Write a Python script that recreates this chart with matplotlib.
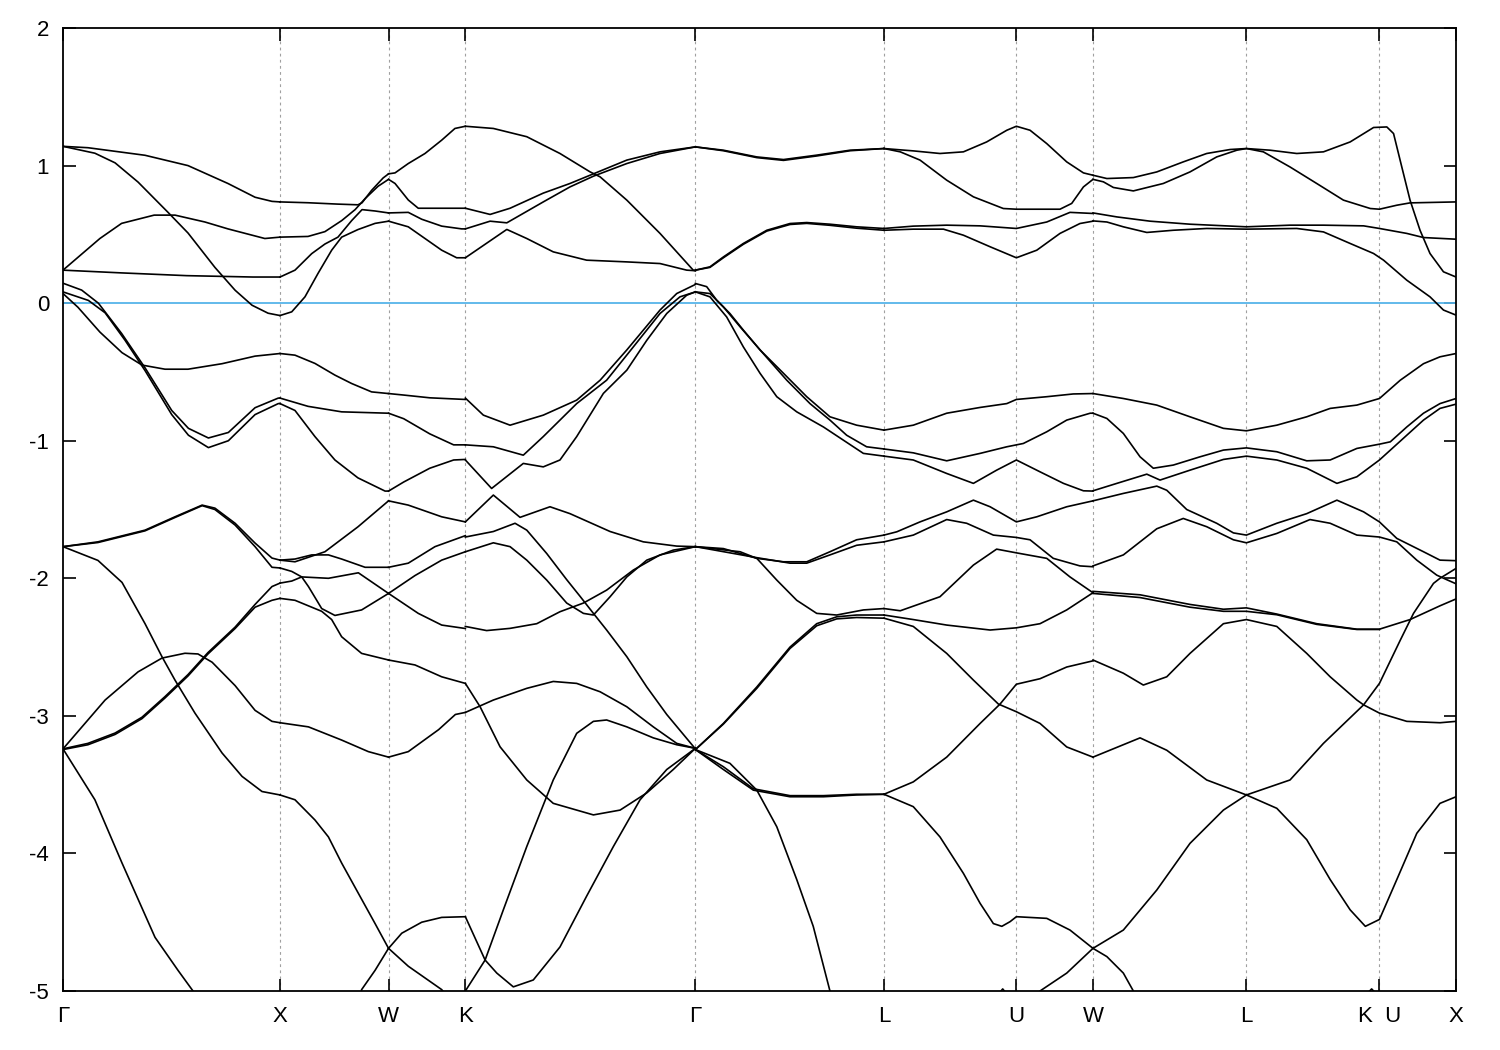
import matplotlib
matplotlib.use("Agg")
import matplotlib.pyplot as plt

plt.rcParams['font.family'] = ['Liberation Sans', 'DejaVu Sans']
plt.rcParams['axes.unicode_minus'] = False

# high-symmetry points along the path (path length units)
kpath_pos = [0.0, 1.0, 1.5, 1.854, 2.914, 3.783, 4.393, 4.746, 5.453, 6.066, 6.419]
kpath_lab = ['Γ', 'X', 'W', 'K', 'Γ', 'L', 'U', 'W', 'L', 'K  U', 'X']

# bands, traced segment by segment, each curve a list of (k, E)
gamma_x = [
    [(0, 1.14), (0.115, 1.13), (0.378, 1.075), (0.576, 1.0), (0.76, 0.87), (0.885, 0.77), (0.963, 0.74), (1.0, 0.736)],
    [(0, 1.14), (0.147, 1.09), (0.24, 1.02), (0.346, 0.88), (0.484, 0.66), (0.576, 0.51), (0.70, 0.26), (0.793, 0.094),
     (0.871, -0.015), (0.945, -0.073), (1.0, -0.09)],
    [(0, 0.24), (0.17, 0.47), (0.27, 0.58), (0.42, 0.64), (0.516, 0.64), (0.654, 0.59), (0.76, 0.54), (0.93, 0.47), (1.0, 0.48)],
    [(0, 0.24), (0.27, 0.22), (0.57, 0.20), (0.875, 0.19), (1.0, 0.19)],
    [(0, 0.145), (0.086, 0.095), (0.163, 0.0), (0.27, -0.22), (0.378, -0.47), (0.501, -0.78), (0.578, -0.91), (0.67, -0.98),
     (0.762, -0.94), (0.885, -0.76), (0.992, -0.69), (1.0, -0.69)],
    [(0, 0.082), (0.117, 0.02), (0.194, -0.07), (0.286, -0.27), (0.378, -0.49), (0.501, -0.81), (0.578, -0.96), (0.67, -1.05),
     (0.762, -1.0), (0.885, -0.81), (0.992, -0.73), (1.0, -0.73)],
    [(0, 0.07), (0.069, -0.03), (0.17, -0.21), (0.272, -0.36), (0.364, -0.45), (0.47, -0.48), (0.576, -0.48), (0.733, -0.44),
     (0.885, -0.385), (1.0, -0.366)],
    [(0, -1.77), (0.161, -1.735), (0.378, -1.65), (0.516, -1.553), (0.641, -1.468), (0.70, -1.49), (0.793, -1.60),
     (0.885, -1.744), (0.963, -1.853), (1.0, -1.868)],
    [(0, -1.77), (0.161, -1.74), (0.378, -1.655), (0.516, -1.558), (0.641, -1.472), (0.70, -1.50), (0.793, -1.613),
     (0.885, -1.77), (0.963, -1.92), (1.0, -1.925)],
    [(0, -1.77), (0.161, -1.87), (0.272, -2.03), (0.378, -2.33), (0.456, -2.57), (0.516, -2.74), (0.608, -2.98), (0.733, -3.27),
     (0.825, -3.44), (0.917, -3.55), (1.0, -3.575)],
    [(0, -3.24), (0.115, -3.20), (0.24, -3.125), (0.364, -3.01), (0.47, -2.86), (0.576, -2.70), (0.668, -2.54), (0.793, -2.355),
     (0.885, -2.19), (0.963, -2.06), (1.0, -2.035)],
    [(0, -3.245), (0.115, -3.21), (0.24, -3.135), (0.364, -3.02), (0.47, -2.87), (0.576, -2.71), (0.668, -2.55), (0.793, -2.365),
     (0.885, -2.21), (0.963, -2.16), (1.0, -2.146)],
    [(0, -3.24), (0.194, -2.885), (0.346, -2.68), (0.456, -2.58), (0.562, -2.545), (0.622, -2.55), (0.687, -2.61), (0.793, -2.78),
     (0.885, -2.96), (0.963, -3.04), (1.0, -3.05)],
    [(0, -3.24), (0.147, -3.61), (0.272, -4.07), (0.424, -4.61), (0.53, -4.85), (0.599, -5.0), (0.631, -5.1)],
]

x_w = [
    [(1.0, 0.736), (1.129, 0.73), (1.267, 0.72), (1.359, 0.715), (1.378, 0.73), (1.422, 0.82), (1.475, 0.91), (1.5, 0.94)],
    [(1.0, 0.48), (1.129, 0.485), (1.207, 0.52), (1.284, 0.60), (1.346, 0.68), (1.392, 0.76), (1.452, 0.85), (1.5, 0.90)],
    [(1.0, 0.19), (1.069, 0.24), (1.146, 0.36), (1.207, 0.43), (1.267, 0.48), (1.330, 0.60), (1.378, 0.68), (1.438, 0.67), (1.5, 0.656)],
    [(1.0, -0.09), (1.054, -0.063), (1.115, 0.046), (1.175, 0.216), (1.238, 0.385), (1.284, 0.48), (1.359, 0.535), (1.438, 0.58),
     (1.5, 0.596)],
    [(1.0, -0.366), (1.069, -0.378), (1.161, -0.438), (1.253, -0.523), (1.330, -0.584), (1.422, -0.645), (1.5, -0.657)],
    [(1.0, -0.69), (1.129, -0.75), (1.284, -0.79), (1.5, -0.80)],
    [(1.0, -0.73), (1.069, -0.78), (1.161, -0.97), (1.253, -1.14), (1.359, -1.27), (1.484, -1.366), (1.5, -1.366)],
    [(1.0, -1.868), (1.069, -1.88), (1.207, -1.807), (1.359, -1.626), (1.5, -1.437)],
    [(1.0, -1.868), (1.069, -1.86), (1.146, -1.83), (1.223, -1.83), (1.284, -1.86), (1.392, -1.92), (1.5, -1.92)],
    [(1.0, -1.925), (1.054, -1.95), (1.10, -1.99), (1.131, -2.06), (1.192, -2.22), (1.253, -2.27), (1.376, -2.23), (1.5, -2.11)],
    [(1.0, -2.035), (1.054, -2.02), (1.10, -1.99), (1.223, -2.0), (1.361, -1.96), (1.5, -2.11)],
    [(1.0, -2.146), (1.069, -2.16), (1.192, -2.24), (1.238, -2.30), (1.284, -2.425), (1.376, -2.546), (1.5, -2.594)],
    [(1.0, -3.05), (1.131, -3.08), (1.284, -3.176), (1.407, -3.26), (1.5, -3.30)],
    [(1.0, -3.575), (1.069, -3.61), (1.161, -3.757), (1.223, -3.88), (1.284, -4.07), (1.361, -4.29), (1.438, -4.51), (1.5, -4.69)],
    [(1.36, -5.1), (1.376, -4.99), (1.438, -4.85), (1.5, -4.69)],
]

w_k = [
    [(1.5, 0.94), (1.53, 0.947), (1.591, 1.015), (1.668, 1.088), (1.745, 1.185), (1.806, 1.27), (1.854, 1.286)],
    [(1.5, 0.90), (1.53, 0.87), (1.591, 0.75), (1.637, 0.69), (1.854, 0.69)],
    [(1.5, 0.656), (1.591, 0.66), (1.653, 0.61), (1.745, 0.56), (1.837, 0.54), (1.854, 0.54)],
    [(1.5, 0.596), (1.591, 0.555), (1.668, 0.47), (1.745, 0.385), (1.814, 0.33), (1.854, 0.33)],
    [(1.5, -0.657), (1.57, -0.668), (1.69, -0.688), (1.854, -0.70)],
    [(1.5, -0.80), (1.57, -0.84), (1.69, -0.95), (1.80, -1.03), (1.854, -1.03)],
    [(1.5, -1.366), (1.57, -1.30), (1.69, -1.20), (1.80, -1.14), (1.854, -1.136)],
    [(1.5, -1.437), (1.591, -1.468), (1.745, -1.553), (1.854, -1.59)],
    [(1.5, -1.92), (1.591, -1.89), (1.714, -1.77), (1.854, -1.69)],
    [(1.5, -2.11), (1.622, -1.98), (1.745, -1.868), (1.854, -1.807)],
    [(1.5, -2.11), (1.637, -2.255), (1.745, -2.34), (1.854, -2.365)],
    [(1.5, -2.594), (1.622, -2.63), (1.745, -2.716), (1.854, -2.764)],
    [(1.5, -3.30), (1.591, -3.26), (1.731, -3.10), (1.808, -2.99), (1.854, -2.975)],
    [(1.5, -4.69), (1.591, -4.82), (1.745, -4.99), (1.80, -5.1)],
    [(1.5, -4.69), (1.561, -4.58), (1.653, -4.50), (1.745, -4.465), (1.854, -4.46)],
]

k_gamma = [
    [(1.854, 1.286), (1.983, 1.27), (2.137, 1.21), (2.290, 1.088), (2.428, 0.955), (2.475, 0.918), (2.598, 0.749),
     (2.751, 0.507), (2.904, 0.24), (2.914, 0.236)],
    [(1.854, 0.69), (1.968, 0.645), (2.060, 0.69), (2.213, 0.80), (2.336, 0.87), (2.444, 0.94), (2.598, 1.04), (2.751, 1.10),
     (2.914, 1.136)],
    [(1.854, 0.54), (1.968, 0.596), (2.045, 0.584), (2.213, 0.736), (2.336, 0.845), (2.444, 0.923), (2.598, 1.015),
     (2.751, 1.088), (2.914, 1.136)],
    [(1.854, 0.33), (2.045, 0.536), (2.137, 0.47), (2.259, 0.373), (2.413, 0.3125), (2.598, 0.30), (2.751, 0.288),
     (2.874, 0.24), (2.914, 0.236)],
    [(1.854, -0.69), (1.937, -0.814), (2.060, -0.887), (2.213, -0.814), (2.367, -0.705), (2.475, -0.56), (2.598, -0.34),
     (2.751, -0.05), (2.828, 0.07), (2.914, 0.136)],
    [(1.854, -1.03), (1.983, -1.044), (2.121, -1.105), (2.213, -0.97), (2.367, -0.73), (2.505, -0.56), (2.628, -0.318),
     (2.751, -0.075), (2.843, 0.046), (2.914, 0.082)],
    [(1.854, -1.14), (1.975, -1.347), (2.121, -1.165), (2.213, -1.19), (2.290, -1.14), (2.367, -0.97), (2.490, -0.656),
     (2.598, -0.487), (2.690, -0.27), (2.782, -0.075), (2.874, 0.058), (2.914, 0.082)],
    [(1.854, -1.59), (1.983, -1.395), (2.106, -1.557), (2.244, -1.48), (2.336, -1.53), (2.521, -1.66), (2.674, -1.735),
     (2.828, -1.766), (2.914, -1.77)],
    [(1.854, -1.70), (1.983, -1.66), (2.083, -1.60), (2.137, -1.65), (2.229, -1.82), (2.321, -2.01), (2.382, -2.13),
     (2.444, -2.255), (2.505, -2.376), (2.598, -2.57), (2.690, -2.79), (2.782, -2.99), (2.914, -3.24)],
    [(1.854, -1.807), (1.983, -1.742), (2.060, -1.77), (2.137, -1.868), (2.229, -2.013), (2.321, -2.18), (2.398, -2.255),
     (2.444, -2.267), (2.521, -2.134), (2.598, -1.99), (2.690, -1.868), (2.812, -1.795), (2.914, -1.77)],
    [(1.854, -2.35), (1.952, -2.38), (2.060, -2.364), (2.183, -2.33), (2.290, -2.243), (2.398, -2.18), (2.505, -2.086),
     (2.628, -1.94), (2.751, -1.83), (2.914, -1.77)],
    [(1.854, -2.975), (1.983, -2.885), (2.137, -2.80), (2.259, -2.75), (2.367, -2.764), (2.475, -2.825), (2.598, -2.934),
     (2.720, -3.08), (2.828, -3.20), (2.914, -3.236)],
    [(1.854, -2.764), (1.922, -2.934), (2.014, -3.225), (2.137, -3.466), (2.259, -3.636), (2.444, -3.72), (2.567, -3.685),
     (2.690, -3.56), (2.812, -3.39), (2.914, -3.236)],
    [(1.84, -5.1), (1.854, -5.0), (1.945, -4.775), (2.029, -4.41), (2.137, -3.95), (2.259, -3.466), (2.367, -3.127),
     (2.444, -3.04), (2.505, -3.03), (2.598, -3.08), (2.720, -3.16), (2.828, -3.21), (2.914, -3.236)],
    [(1.854, -4.46), (1.945, -4.775), (1.999, -4.87), (2.075, -4.97), (2.167, -4.92), (2.290, -4.68), (2.413, -4.31),
     (2.536, -3.95), (2.659, -3.61), (2.782, -3.39), (2.914, -3.236)],
]

gamma_l = [
    [(2.914, 1.136), (3.043, 1.112), (3.197, 1.063), (3.320, 1.044), (3.473, 1.076), (3.627, 1.112), (3.783, 1.124)],
    [(2.914, 1.136), (3.043, 1.108), (3.197, 1.058), (3.320, 1.038), (3.473, 1.07), (3.627, 1.108), (3.783, 1.124)],
    [(2.914, 0.24), (2.981, 0.264), (3.043, 0.336), (3.135, 0.434), (3.243, 0.53), (3.350, 0.579), (3.427, 0.586),
     (3.534, 0.574), (3.657, 0.555), (3.783, 0.543)],
    [(2.914, 0.24), (2.981, 0.26), (3.043, 0.33), (3.135, 0.428), (3.243, 0.524), (3.350, 0.572), (3.427, 0.58),
     (3.534, 0.566), (3.657, 0.545), (3.783, 0.53)],
    [(2.914, 0.143), (2.966, 0.12), (3.012, 0.022), (3.073, -0.075), (3.135, -0.196), (3.212, -0.34), (3.320, -0.51),
     (3.427, -0.68), (3.534, -0.826), (3.657, -0.887), (3.783, -0.923)],
    [(2.914, 0.082), (2.981, 0.07), (3.043, -0.027), (3.120, -0.172), (3.212, -0.34), (3.335, -0.56), (3.442, -0.73),
     (3.534, -0.85), (3.611, -0.96), (3.703, -1.044), (3.783, -1.06)],
    [(2.914, 0.082), (2.981, 0.046), (3.058, -0.1), (3.135, -0.318), (3.212, -0.51), (3.289, -0.68), (3.381, -0.79),
     (3.504, -0.90), (3.596, -0.996), (3.688, -1.092), (3.783, -1.112)],
    [(2.914, -1.77), (3.043, -1.784), (3.197, -1.855), (3.320, -1.88), (3.427, -1.88), (3.534, -1.807), (3.657, -1.72),
     (3.783, -1.686)],
    [(2.914, -1.77), (3.197, -1.85), (3.350, -1.89), (3.427, -1.89), (3.534, -1.83), (3.657, -1.76), (3.783, -1.735)],
    [(2.914, -1.77), (3.120, -1.807), (3.197, -1.855), (3.289, -2.013), (3.381, -2.16), (3.473, -2.255), (3.565, -2.267),
     (3.688, -2.23), (3.783, -2.22)],
    [(2.914, -3.245), (3.043, -3.055), (3.197, -2.79), (3.350, -2.50), (3.473, -2.33), (3.565, -2.28), (3.657, -2.267),
     (3.783, -2.267)],
    [(2.914, -3.245), (3.043, -3.06), (3.197, -2.80), (3.350, -2.51), (3.473, -2.345), (3.565, -2.295), (3.657, -2.285),
     (3.783, -2.29)],
    [(2.914, -3.245), (3.043, -3.39), (3.181, -3.54), (3.350, -3.588), (3.504, -3.588), (3.657, -3.575), (3.783, -3.57)],
    [(2.914, -3.245), (3.043, -3.37), (3.181, -3.53), (3.350, -3.58), (3.504, -3.58), (3.657, -3.57), (3.783, -3.57)],
    [(2.914, -3.245), (3.073, -3.345), (3.197, -3.54), (3.289, -3.806), (3.381, -4.19), (3.457, -4.53), (3.534, -5.0),
     (3.55, -5.1)],
]

l_u_w = [
    [(3.783, 1.124), (3.918, 1.107), (4.041, 1.088), (4.149, 1.10), (4.256, 1.172), (4.349, 1.257), (4.393, 1.286),
     (4.456, 1.257), (4.533, 1.16), (4.625, 1.027), (4.702, 0.947), (4.746, 0.93)],
    [(3.783, 1.124), (3.858, 1.10), (3.949, 1.04), (4.072, 0.894), (4.195, 0.773), (4.333, 0.688), (4.393, 0.683),
     (4.594, 0.683), (4.648, 0.725), (4.702, 0.845), (4.746, 0.90)],
    [(3.783, 0.543), (3.918, 0.56), (4.072, 0.567), (4.226, 0.562), (4.393, 0.543), (4.533, 0.59), (4.640, 0.66), (4.746, 0.652)],
    [(3.783, 0.53), (3.918, 0.538), (4.057, 0.538), (4.149, 0.494), (4.272, 0.41), (4.393, 0.33), (4.487, 0.385),
     (4.594, 0.507), (4.686, 0.579), (4.746, 0.596)],
    [(3.783, -0.923), (3.918, -0.887), (4.072, -0.80), (4.226, -0.758), (4.349, -0.73), (4.393, -0.70), (4.533, -0.68),
     (4.655, -0.66), (4.746, -0.657)],
    [(3.783, -1.06), (3.918, -1.088), (4.072, -1.146), (4.226, -1.092), (4.349, -1.044), (4.425, -1.02), (4.533, -0.935),
     (4.625, -0.85), (4.733, -0.80), (4.746, -0.80)],
    [(3.783, -1.112), (3.918, -1.14), (4.072, -1.238), (4.195, -1.31), (4.302, -1.214), (4.393, -1.14), (4.502, -1.226),
     (4.610, -1.31), (4.702, -1.364), (4.746, -1.366)],
    [(3.783, -1.686), (3.842, -1.662), (3.949, -1.59), (4.072, -1.517), (4.195, -1.432), (4.272, -1.48), (4.393, -1.59),
     (4.487, -1.553), (4.625, -1.48), (4.746, -1.437)],
    [(3.783, -1.735), (3.918, -1.686), (4.072, -1.573), (4.164, -1.60), (4.287, -1.686), (4.393, -1.703), (4.456, -1.72),
     (4.563, -1.855), (4.686, -1.91), (4.746, -1.916)],
    [(3.783, -2.22), (3.858, -2.236), (4.041, -2.134), (4.195, -1.904), (4.302, -1.788), (4.393, -1.815), (4.533, -1.855),
     (4.640, -1.99), (4.746, -2.105)],
    [(3.783, -2.267), (3.918, -2.30), (4.072, -2.34), (4.272, -2.376), (4.393, -2.36), (4.502, -2.33), (4.625, -2.23),
     (4.746, -2.105)],
    [(3.783, -2.29), (3.918, -2.35), (4.072, -2.546), (4.195, -2.74), (4.310, -2.914), (4.393, -2.97), (4.502, -3.055),
     (4.625, -3.226), (4.746, -3.30)],
    [(3.783, -3.57), (3.918, -3.66), (4.041, -3.88), (4.149, -4.145), (4.226, -4.363), (4.287, -4.51), (4.326, -4.53),
     (4.364, -4.496), (4.393, -4.46), (4.533, -4.472), (4.640, -4.557), (4.746, -4.69)],
    [(3.783, -3.57), (3.918, -3.48), (4.072, -3.30), (4.226, -3.055), (4.318, -2.914), (4.393, -2.77), (4.502, -2.73),
     (4.625, -2.645), (4.746, -2.60)],
    [(4.48, -5.1), (4.502, -5.0), (4.625, -4.87), (4.746, -4.69)],
    [(4.27, -5.1), (4.33, -4.985), (4.39, -5.1)],
]

w_l_k_x = [
    [(4.746, 0.93), (4.810, 0.906), (4.932, 0.913), (5.040, 0.954), (5.162, 1.027), (5.270, 1.088), (5.378, 1.117),
     (5.453, 1.124), (5.562, 1.112), (5.685, 1.088), (5.808, 1.10), (5.931, 1.172), (6.039, 1.277), (6.100, 1.281),
     (6.131, 1.233), (6.169, 0.99), (6.207, 0.749), (6.253, 0.53), (6.299, 0.361), (6.361, 0.228), (6.419, 0.19)],
    [(4.746, 0.90), (4.794, 0.882), (4.840, 0.841), (4.932, 0.816), (5.070, 0.87), (5.193, 0.954), (5.316, 1.063),
     (5.409, 1.112), (5.453, 1.124), (5.531, 1.10), (5.654, 0.99), (5.777, 0.87), (5.900, 0.749), (6.024, 0.688),
     (6.066, 0.683), (6.146, 0.712), (6.207, 0.729), (6.419, 0.736)],
    [(4.746, 0.656), (4.856, 0.627), (5.009, 0.596), (5.193, 0.574), (5.453, 0.555), (5.654, 0.567), (5.808, 0.567),
     (5.993, 0.562), (6.066, 0.543), (6.192, 0.507), (6.269, 0.477), (6.419, 0.465)],
    [(4.746, 0.598), (4.810, 0.59), (4.886, 0.555), (4.994, 0.514), (5.116, 0.53), (5.270, 0.543), (5.453, 0.538),
     (5.685, 0.543), (5.808, 0.518), (5.931, 0.434), (6.039, 0.361), (6.085, 0.3125), (6.192, 0.167), (6.299, 0.046),
     (6.361, -0.05), (6.419, -0.087)],
    [(4.746, -0.657), (4.886, -0.693), (5.040, -0.741), (5.193, -0.826), (5.347, -0.91), (5.453, -0.928), (5.593, -0.887),
     (5.731, -0.826), (5.839, -0.765), (5.962, -0.741), (6.066, -0.693), (6.162, -0.56), (6.269, -0.44), (6.345, -0.39),
     (6.419, -0.366)],
    [(4.746, -0.80), (4.810, -0.838), (4.886, -0.947), (4.963, -1.117), (5.024, -1.20), (5.116, -1.177), (5.239, -1.117),
     (5.347, -1.068), (5.453, -1.052), (5.593, -1.08), (5.731, -1.146), (5.839, -1.14), (5.962, -1.056), (6.066, -1.025),
     (6.116, -1.008), (6.192, -0.90), (6.269, -0.80), (6.345, -0.73), (6.419, -0.693)],
    [(4.746, -1.364), (4.856, -1.31), (4.994, -1.243), (5.055, -1.286), (5.193, -1.214), (5.347, -1.136), (5.453, -1.112),
     (5.593, -1.14), (5.731, -1.20), (5.870, -1.31), (5.962, -1.262), (6.066, -1.14), (6.192, -0.96), (6.269, -0.85),
     (6.345, -0.765), (6.419, -0.734)],
    [(4.746, -1.437), (4.886, -1.383), (5.040, -1.33), (5.086, -1.36), (5.178, -1.50), (5.316, -1.60), (5.393, -1.67),
     (5.453, -1.686), (5.593, -1.60), (5.731, -1.53), (5.870, -1.432), (5.993, -1.517), (6.066, -1.59), (6.146, -1.71),
     (6.269, -1.807), (6.345, -1.868), (6.419, -1.872)],
    [(4.746, -1.91), (4.886, -1.83), (5.040, -1.64), (5.162, -1.565), (5.270, -1.625), (5.393, -1.72), (5.453, -1.742),
     (5.593, -1.674), (5.746, -1.573), (5.839, -1.60), (5.962, -1.686), (6.066, -1.70), (6.146, -1.735), (6.238, -1.868),
     (6.330, -1.977), (6.376, -2.01), (6.419, -2.04)],
    [(4.746, -2.095), (4.963, -2.12), (5.193, -2.19), (5.347, -2.225), (5.453, -2.215), (5.593, -2.26), (5.777, -2.33),
     (5.962, -2.37), (6.066, -2.37), (6.207, -2.30), (6.345, -2.2), (6.419, -2.15)],
    [(4.746, -2.11), (4.963, -2.14), (5.193, -2.21), (5.347, -2.24), (5.453, -2.24), (5.593, -2.265), (5.777, -2.335),
     (5.962, -2.372), (6.066, -2.372)],
    [(4.746, -2.594), (4.886, -2.69), (4.978, -2.776), (5.086, -2.716), (5.193, -2.546), (5.347, -2.33), (5.453, -2.30),
     (5.593, -2.35), (5.731, -2.546), (5.839, -2.716), (5.962, -2.885), (5.993, -2.92), (6.066, -2.98), (6.192, -3.04),
     (6.345, -3.05), (6.419, -3.04)],
    [(4.746, -3.30), (4.963, -3.16), (5.086, -3.25), (5.270, -3.466), (5.453, -3.575), (5.654, -3.466), (5.808, -3.20),
     (5.993, -2.92), (6.066, -2.764), (6.162, -2.45), (6.223, -2.255), (6.315, -2.037), (6.345, -2.0), (6.419, -1.928)],
    [(4.746, -4.69), (4.886, -4.557), (5.040, -4.266), (5.193, -3.927), (5.347, -3.685), (5.453, -3.575), (5.593, -3.672),
     (5.731, -3.90), (5.839, -4.19), (5.931, -4.41), (6.001, -4.53), (6.066, -4.48), (6.146, -4.19), (6.238, -3.854),
     (6.345, -3.636), (6.419, -3.588)],
    [(4.746, -4.69), (4.810, -4.75), (4.886, -4.87), (4.932, -5.0), (4.95, -5.1)],
    [(5.96, -5.1), (6.03, -4.985), (6.1, -5.1)],
]

segments = [gamma_x, x_w, w_k, k_gamma, gamma_l, l_u_w, w_l_k_x]

fig = plt.figure(figsize=(15, 10.5), dpi=100)
ax = fig.add_axes([0.042, 0.0562, 0.9287, 0.9171])

# vertical guides at the inner high-symmetry points
for kx in kpath_pos[1:-1]:
    ax.axvline(kx, color='#a0a0a0', linestyle=(0, (2.5, 3)), linewidth=0.8, zorder=1)

# Fermi level
ax.axhline(0, color='#56b4e9', linewidth=1.3, zorder=2)

for seg in segments:
    for curve in seg:
        ks = [p[0] for p in curve]
        es = [p[1] for p in curve]
        ax.plot(ks, es, color='black', linewidth=1.2, zorder=3)

ax.set_xlim(kpath_pos[0], kpath_pos[-1])
ax.set_ylim(-5, 2)
ax.set_xticks(kpath_pos)
ax.set_xticklabels(kpath_lab)
ax.set_yticks(range(-5, 3))

ax.tick_params(axis='both', direction='in', length=9, width=1.2, labelsize=16,
               top=True, right=True)
ax.tick_params(axis='x', pad=11)
ax.tick_params(axis='y', pad=10)
for s in ax.spines.values():
    s.set_linewidth(1.3)

plt.savefig('out.png', dpi=100)
